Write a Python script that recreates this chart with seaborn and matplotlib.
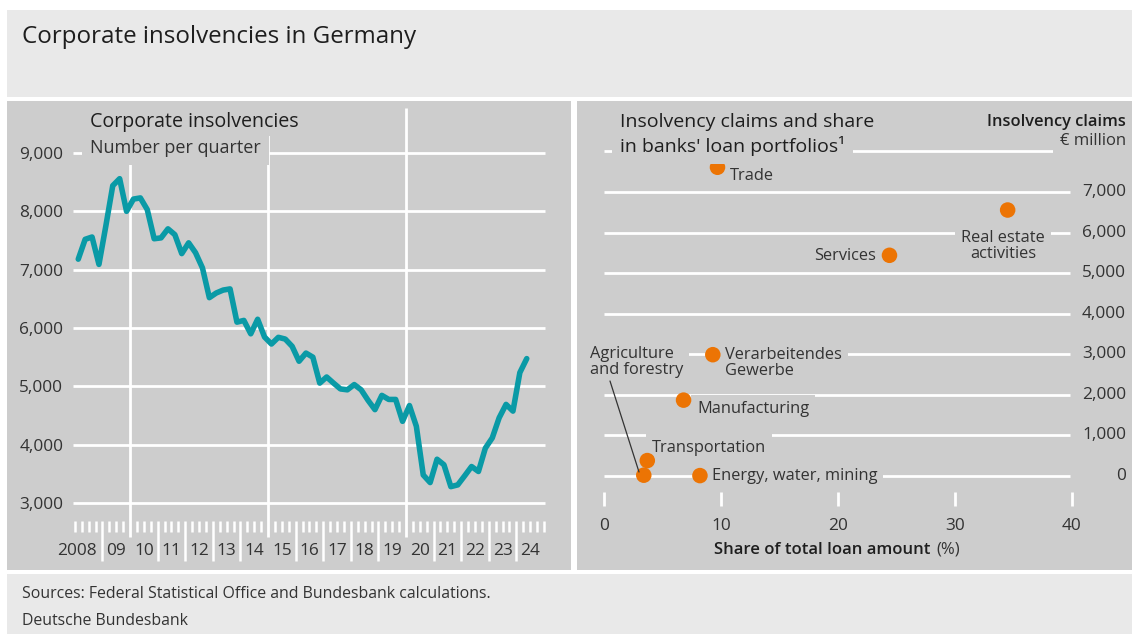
import numpy as np
import pandas as pd
import matplotlib
matplotlib.use("Agg")
import matplotlib.pyplot as plt
import seaborn as sns
from matplotlib.patches import Rectangle

# ---------------- data ----------------
start_year = 2008
insolvencies = [7180, 7520, 7560, 7090, 7750, 8440, 8560, 8000, 8210, 8230, 8030,
                7530, 7545, 7700, 7600, 7275, 7460, 7290, 7030, 6520, 6600, 6650,
                6670, 6100, 6130, 5900, 6150, 5845, 5725, 5840, 5810, 5685, 5430,
                5570, 5500, 5055, 5160, 5055, 4955, 4940, 5030, 4940, 4760, 4600,
                4845, 4775, 4775, 4400, 4670, 4315, 3480, 3350, 3750, 3655, 3280,
                3310, 3465, 3625, 3540, 3940, 4115, 4460, 4690, 4575, 5235, 5475]
year_labels = ["2008", "09", "10", "11", "12", "13", "14", "15", "16", "17",
               "18", "19", "20", "21", "22", "23", "24"]
left_yticks = [3000, 4000, 5000, 6000, 7000, 8000, 9000]
left_vlines = [2010, 2015, 2020]

sectors = ["Trade", "Real estate\nactivities", "Services", "Verarbeitendes\nGewerbe",
           "Manufacturing", "Transportation", "Agriculture\nand forestry",
           "Energy, water, mining"]
loan_share = [9.7, 34.5, 24.4, 9.3, 6.8, 3.7, 3.4, 8.2]
claims = [7610, 6556, 5440, 2990, 1870, 380, 20, 10]
right_grid = [0, 1000, 2000, 3000, 4000, 5000, 6000, 7000, 8000]
right_yticks = [0, 1000, 2000, 3000, 4000, 5000, 6000, 7000]
right_xticks = [0, 10, 20, 30, 40]

# ---------------- style ----------------
sns.set_style("white")
plt.rcParams['font.family'] = ['Open Sans', 'DejaVu Sans']

PANEL = "#cdcdcd"
BAND = "#e9e9e9"
TEAL = "#0a9aa6"
ORANGE = "#ec7404"
TXT = "#1e1e1e"
TXT2 = "#333333"
FS_TICK = 12.4
FS_LAB = 11.8

W, H = 1132, 634
fig = plt.figure(figsize=(W / 100, H / 100), dpi=100)
fig.patch.set_facecolor("white")


def rect(x0, y0, x1, y1, color):
    fig.patches.append(Rectangle((x0 / W, 1 - y1 / H), (x1 - x0) / W, (y1 - y0) / H,
                                 transform=fig.transFigure, facecolor=color,
                                 edgecolor="none", zorder=-10))


def ax_px(x0, y0, x1, y1):
    a = fig.add_axes([x0 / W, 1 - y1 / H, (x1 - x0) / W, (y1 - y0) / H])
    a.set_facecolor("none")
    for s in a.spines.values():
        s.set_visible(False)
    return a


def ftext(x, y, s, **kw):
    return fig.text(x / W, 1 - y / H, s, **kw)


rect(7, 10, 1132, 97, BAND)
rect(7, 101, 571, 570, PANEL)
rect(577, 101, 1132, 570, PANEL)
rect(7, 574, 1132, 634, BAND)

# ---------------- left panel ----------------
axL = ax_px(73, 108, 548, 566)
yr = lambda px: 2008 + (px - 74.8) / 27.6
vl = lambda px: 9000 - (px - 153) / 58.33 * 1000
axL.set_xlim(yr(73), yr(548))
axL.set_ylim(vl(566), vl(108))

for v in left_yticks:
    axL.hlines(v, 2007.95, 2025.05, color="white", lw=2.0, zorder=1)
for x in left_vlines:
    axL.vlines(x, vl(537), vl(108), color="white", lw=2.0, zorder=1)
nyears = len(year_labels)
for q in range(nyears * 4 + 1):
    x = start_year + q / 4
    if x in left_vlines:
        continue
    if q % 4 == 0 and 0 < q < nyears * 4:
        axL.vlines(x, vl(561), vl(521), color="white", lw=1.8, zorder=1)
    else:
        axL.vlines(x, vl(532), vl(521), color="white", lw=1.8, zorder=1)
for i, lab in enumerate(year_labels):
    if i == 0:
        axL.text(start_year + 0.80, vl(551), lab, ha="right", va="center",
                 fontsize=FS_TICK, color=TXT2)
    else:
        axL.text(start_year + i + 0.5, vl(551), lab, ha="center", va="center",
                 fontsize=FS_TICK, color=TXT2)

df = pd.DataFrame({"t": start_year + (np.arange(len(insolvencies)) + 0.5) / 4,
                   "v": insolvencies})
sns.lineplot(data=df, x="t", y="v", ax=axL, color=TEAL, lw=4.0, zorder=5)
axL.set_xlabel("")
axL.set_ylabel("")
axL.set_xticks([])
axL.set_yticks(left_yticks)
axL.set_yticklabels([f"{v:,}" for v in left_yticks])
axL.tick_params(axis="y", length=0, pad=7, labelsize=FS_TICK, labelcolor=TXT2)

ftext(90, 148, "Number per quarter", fontsize=13, color=TXT2, va="center", zorder=3,
      bbox=dict(boxstyle="square,pad=0.45", fc=PANEL, ec="none"))
ftext(90, 122, "Corporate insolvencies", fontsize=14.1, color=TXT, va="center", zorder=4,
      bbox=dict(boxstyle="square,pad=0.2", fc=PANEL, ec="none"))

# ---------------- right panel ----------------
axR = ax_px(588, 108, 1077, 566)
xs = lambda px: (px - 604) / 11.7
yc = lambda px: (476 - px) / 40.57 * 1000
axR.set_xlim(xs(588), xs(1077))
axR.set_ylim(yc(566), yc(108))
axR.set_xticks([])
axR.set_yticks([])

for v in right_grid:
    axR.hlines(v, 0, 39.8, color="white", lw=2.0, zorder=1)
for v in right_yticks:
    axR.text(xs(1126), v, f"{v:,}", ha="right", va="center", fontsize=FS_TICK,
             color=TXT2, clip_on=False)
for x in right_xticks:
    axR.vlines(x, yc(506), yc(492), color="white", lw=2.0, zorder=1)
    axR.text(x, yc(526), f"{x}", ha="center", va="center", fontsize=FS_TICK, color=TXT2)
axR.text(27.9, yc(550), "Share of total loan amount", ha="right", va="center",
         fontsize=12, color=TXT, fontweight="semibold")
axR.text(28.45, yc(550), "(%)", ha="left", va="center", fontsize=12, color=TXT2)

sdf = pd.DataFrame({"sector": sectors, "share": loan_share, "claims": claims})
sns.scatterplot(data=sdf, x="share", y="claims", ax=axR, color=ORANGE, s=125,
                edgecolor="none", zorder=6, legend=False)
axR.set_xlabel("")
axR.set_ylabel("")

lab_bbox = dict(boxstyle="square,pad=0.35", fc=PANEL, ec="none")
label_pos = {
    "Trade": (xs(730), yc(176), "left"),
    "Real estate\nactivities": (xs(1003), yc(246), "center"),
    "Services": (xs(876), yc(256), "right"),
    "Verarbeitendes\nGewerbe": (xs(725), yc(363), "left"),
    "Manufacturing": (xs(697), yc(409), "left"),
    "Transportation": (xs(652), yc(448), "left"),
    "Agriculture\nand forestry": (xs(590), yc(362), "left"),
    "Energy, water, mining": (xs(712), yc(476), "left"),
}
for name in sectors:
    x, y, ha = label_pos[name]
    axR.text(x, y, name, ha=ha, va="center", fontsize=FS_LAB, color=TXT2,
             linespacing=1.05, bbox=lab_bbox, zorder=3, clip_on=False)
axR.plot([xs(610), xs(639)], [yc(381), yc(472)], color="#333333", lw=0.9, zorder=7)

ftext(620, 146, "in banks' loan portfolios\u00b9", fontsize=14, color=TXT, va="center",
      zorder=3, bbox=dict(boxstyle="square,pad=0.4", fc=PANEL, ec="none"))
ftext(620, 122, "Insolvency claims and share", fontsize=14, color=TXT, va="center",
      zorder=4, bbox=dict(boxstyle="square,pad=0.1", fc=PANEL, ec="none"))
ftext(1126, 141, "\u20ac million", fontsize=12, color=TXT2, va="center", ha="right", zorder=3,
      bbox=dict(boxstyle="square,pad=0.4", fc=PANEL, ec="none"))
ftext(1126, 122, "Insolvency claims", fontsize=11.8, color=TXT, va="center", ha="right",
      fontweight="semibold", zorder=4)

# ---------------- header / footer ----------------
ftext(22, 37, "Corporate insolvencies in Germany", fontsize=17.4, color=TXT, va="center")
ftext(22, 594, "Sources: Federal Statistical Office and Bundesbank calculations.",
      fontsize=11.4, color=TXT2, va="center")
ftext(22, 621, "Deutsche Bundesbank", fontsize=11.4, color=TXT2, va="center")

fig.savefig("out.png", dpi=100)
